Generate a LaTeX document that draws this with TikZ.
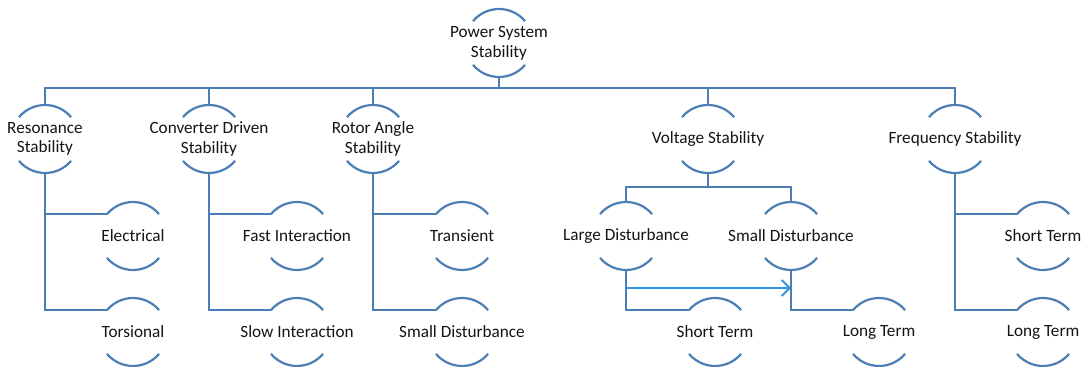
\documentclass[tikz,border=0pt]{standalone}
\usepackage{fontspec}
\setmainfont{Carlito}
\usetikzlibrary{arrows.meta,calc}
\definecolor{pssLine}{RGB}{74,126,180}
\definecolor{pssFlow}{RGB}{44,150,228}
\definecolor{pssInk}{RGB}{20,20,20}

\begin{document}
\begin{tikzpicture}[x=.75pt,y=.75pt]
\tikzset{
ring/.style={circle,minimum size=51pt,inner sep=0pt,outer sep=0pt},
txt/.style={font=\fontsize{12.9}{14.8}\selectfont,text=pssInk,align=center,inner sep=0pt},
link/.style={draw=pssLine,line width=1.65pt},
flow/.style={-{Straight Barb[length=6pt,width=12pt,line width=1.4pt]},draw=pssFlow,line width=1.4pt}
}
\useasboundingbox (0,0) rectangle (1084,367);

% nodes: name / x / y / text
\foreach \n/\x/\y/\t in {
  pss/499/324/{Power System\\Stability},
  res/45/228/{Resonance\\Stability},
  cds/209/228/{Converter Driven\\Stability},
  rot/373/228/{Rotor Angle\\Stability},
  vol/708/228/{Voltage Stability},
  frq/955/228/{Frequency Stability},
  ele/133/131/{Electrical},
  tor/133/35/{Torsional},
  fst/297/131/{Fast Interaction},
  slw/297/35/{Slow Interaction},
  trn/462/131/{Transient},
  sdr/462/35/{Small Disturbance},
  ldv/626/131/{Large Disturbance},
  sdv/791/131/{Small Disturbance},
  stv/715/35/{Short Term},
  ltv/879/35/{Long Term},
  stf/1043/131/{Short Term},
  ltf/1043/35/{Long Term}}
{
  \node[ring] (\n) at (\x,\y) {};
  \node[txt] (\n-t) at (\n) {\t};
  \draw[link] (\n.140) arc[start angle=140,end angle=40,radius=25.5pt];
  \draw[link] (\n.220) arc[start angle=220,end angle=320,radius=25.5pt];
}

% top bus
\coordinate (bus) at (499,279);
\draw[link] (pss.south) -- (bus);
\draw[link] (res.north) |- (bus) -| (frq.north);
\foreach \n in {cds,rot,vol}
  \draw[link] (\n.north) -- (\n.north |- bus);

% branches
\foreach \p/\a/\b in {res/ele/tor,cds/fst/slw,rot/trn/sdr,frq/stf/ltf}{
  \draw[link] (\p.south) |- (\a.140);
  \draw[link] (\p.south) |- (\b.140);
}

% voltage stability
\coordinate (vbus) at (708,180);
\draw[link] (vol.south) -- (vbus);
\draw[link] (ldv.north) |- (vbus) -| (sdv.north);
\draw[link] (ldv.south) |- (stv.140);
\draw[link] (sdv.south) |- (ltv.140);
\coordinate (tap) at ($(ldv.south)+(0,-18)$);
\draw[flow] (tap) -- (tap -| sdv.south);
\end{tikzpicture}
\end{document}
